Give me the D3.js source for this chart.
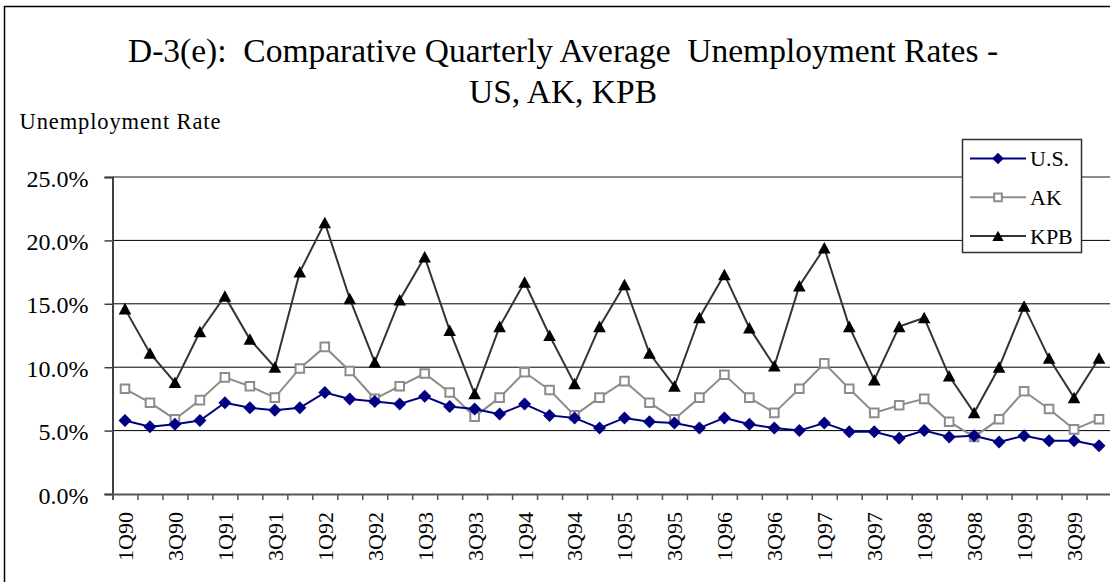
<!DOCTYPE html>
<html>
<head>
<meta charset="utf-8">
<script src="https://cdn.jsdelivr.net/npm/d3@7"></script>
<style>
  html, body { margin: 0; padding: 0; background: #fff; }
  svg { display: block; }
  text { font-family: "Liberation Serif", "Times New Roman", serif; fill: #000; }
</style>
</head>
<body>
<svg id="chart" width="1110" height="582"></svg>
<script>
// ---- Data ----
const categories = [
  "1Q90","2Q90","3Q90","4Q90","1Q91","2Q91","3Q91","4Q91",
  "1Q92","2Q92","3Q92","4Q92","1Q93","2Q93","3Q93","4Q93",
  "1Q94","2Q94","3Q94","4Q94","1Q95","2Q95","3Q95","4Q95",
  "1Q96","2Q96","3Q96","4Q96","1Q97","2Q97","3Q97","4Q97",
  "1Q98","2Q98","3Q98","4Q98","1Q99","2Q99","3Q99","4Q99"
];
const usValues = [5.8, 5.3, 5.5, 5.8, 7.2, 6.8, 6.6, 6.8, 8.0, 7.5, 7.3, 7.1, 7.7, 6.9, 6.7, 6.3,
  7.1, 6.2, 6.0, 5.2, 6.0, 5.7, 5.6, 5.2, 6.0, 5.5, 5.2, 5.0, 5.6, 4.9, 4.9, 4.4,
  5.0, 4.5, 4.6, 4.1, 4.6, 4.2, 4.2, 3.8];
const akValues = [8.3, 7.2, 5.9, 7.4, 9.2, 8.5, 7.6, 9.9, 11.6, 9.7, 7.5, 8.5, 9.5, 8.0, 6.1, 7.6,
  9.6, 8.2, 6.2, 7.6, 8.9, 7.2, 5.9, 7.6, 9.4, 7.6, 6.4, 8.3, 10.3, 8.3, 6.4, 7.0,
  7.5, 5.7, 4.5, 5.9, 8.1, 6.7, 5.1, 5.9];
const kpbValues = [14.6, 11.1, 8.8, 12.8, 15.6, 12.2, 10.0, 17.5, 21.4, 15.4, 10.4, 15.3, 18.7, 12.9, 7.9, 13.2,
  16.7, 12.5, 8.7, 13.2, 16.5, 11.1, 8.5, 13.9, 17.3, 13.1, 10.1, 16.4, 19.4, 13.2, 9.0, 13.2,
  13.9, 9.3, 6.4, 10.0, 14.8, 10.7, 7.6, 10.7];
const seriesNames = ["U.S.", "AK", "KPB"];
const yTicks = [0, 5, 10, 15, 20, 25];
const titleLines = ["D-3(e):  Comparative Quarterly Average  Unemployment Rates -", "US, AK, KPB"];
const yAxisTitle = "Unemployment Rate";

// ---- Setup ----
const svg = d3.select("#chart");
const plotLeft = 112.5, plotRight = 1111.5, plotTop = 177, plotBottom = 494;

const x = d3.scaleBand().domain(categories).range([plotLeft, plotRight]).padding(0);
const xb = d3.scaleLinear().domain([0, categories.length]).range([plotLeft, plotRight]);
const y = d3.scaleLinear().domain([0, 25]).range([plotBottom, plotTop]);
const cx = d => x(d) + x.bandwidth() / 2;

// Chart frame (extends beyond the visible area on right/bottom)
svg.append("rect")
  .attr("x", 4.5).attr("y", 6.5).attr("width", 1300).attr("height", 800)
  .attr("fill", "none").attr("stroke", "#000").attr("stroke-width", 1.5);

// Title
svg.append("g").selectAll("text").data(titleLines).join("text")
  .attr("x", 563).attr("y", (d, i) => 61.5 + i * 41.5)
  .attr("text-anchor", "middle")
  .style("font-size", "33.5px")
  .style("white-space", "pre")
  .text(d => d);

// Y-axis title
svg.append("text")
  .attr("x", 19.5).attr("y", 128.5)
  .style("font-size", "22.5px")
  .attr("textLength", 201).attr("lengthAdjust", "spacing")
  .text(yAxisTitle);

// Gridlines
svg.append("g").selectAll("line").data(yTicks.filter(t => t > 0)).join("line")
  .attr("x1", plotLeft).attr("x2", plotRight)
  .attr("y1", d => y(d)).attr("y2", d => y(d))
  .attr("stroke", d => d === 25 ? "#8c8c8c" : "#000")
  .attr("stroke-width", d => d === 25 ? 2 : 1);

// Y axis
const yAxis = svg.append("g")
  .attr("transform", `translate(${plotLeft},0)`)
  .call(d3.axisLeft(y).tickValues(yTicks).tickSize(8).tickPadding(16)
    .tickFormat(d => d.toFixed(1) + "%"));
yAxis.select(".domain").attr("stroke", "#404040").attr("stroke-width", 2);
yAxis.selectAll(".tick line").attr("stroke", "#404040").attr("stroke-width", 1.5);
yAxis.selectAll(".tick text").style("font-size", "24px").attr("font-family", null).attr("dy", "0.38em");

// X axis ticks at category boundaries
const xTickAxis = svg.append("g")
  .attr("transform", `translate(0,${plotBottom})`)
  .call(d3.axisBottom(xb).tickValues(d3.range(0, categories.length + 1)).tickSize(6).tickFormat(""));
xTickAxis.select(".domain").attr("stroke", "#555").attr("stroke-width", 2);
xTickAxis.selectAll(".tick line").attr("stroke", "#555").attr("stroke-width", 1.5);

// X labels every second category, rotated
const xLabelAxis = svg.append("g")
  .attr("transform", `translate(0,${plotBottom})`)
  .call(d3.axisBottom(x).tickValues(categories.filter((c, i) => i % 2 === 0)).tickSize(0));
xLabelAxis.select(".domain").remove();
xLabelAxis.selectAll(".tick text")
  .attr("font-family", null)
  .style("font-size", "22px")
  .attr("transform", "rotate(-90)")
  .attr("text-anchor", "end")
  .attr("x", -18).attr("y", 0).attr("dy", "0.36em");

// Marker shapes
const diamondType = { draw(ctx, size) { const r = Math.sqrt(size) / 2;
  ctx.moveTo(0, -r); ctx.lineTo(r, 0); ctx.lineTo(0, r); ctx.lineTo(-r, 0); ctx.closePath(); } };
const squareType = { draw(ctx, size) { const r = Math.sqrt(size) / 2;
  ctx.moveTo(-r, -r); ctx.lineTo(r, -r); ctx.lineTo(r, r); ctx.lineTo(-r, r); ctx.closePath(); } };
const triangleType = { draw(ctx, size) { const r = Math.sqrt(size) / 2;
  ctx.moveTo(0, -r); ctx.lineTo(r * 1.05, r * 0.92); ctx.lineTo(-r * 1.05, r * 0.92); ctx.closePath(); } };

const series = [
  { name: seriesNames[0], values: usValues, line: "#000080", width: 2, type: diamondType, size: 13 * 13, fill: "#000080", stroke: "none", sw: 0 },
  { name: seriesNames[1], values: akValues, line: "#8c8c8c", width: 2, type: squareType, size: 8.6 * 8.6, fill: "#fff", stroke: "#8c8c8c", sw: 2 },
  { name: seriesNames[2], values: kpbValues, line: "#333333", width: 2, type: triangleType, size: 12 * 12, fill: "#000", stroke: "none", sw: 0 }
];

const lineGen = d3.line().x((v, i) => cx(categories[i])).y(v => y(v));

// Draw order: KPB, AK, US (US on top)
[series[2], series[1], series[0]].forEach(s => {
  const g = svg.append("g");
  g.append("path").attr("d", lineGen(s.values))
    .attr("fill", "none").attr("stroke", s.line).attr("stroke-width", s.width);
  g.selectAll("path.m").data(s.values).join("path").attr("class", "m")
    .attr("transform", (v, i) => `translate(${cx(categories[i])},${y(v)})`)
    .attr("d", d3.symbol(s.type, s.size))
    .attr("fill", s.fill).attr("stroke", s.stroke).attr("stroke-width", s.sw);
});

// Legend
const legend = svg.append("g");
legend.append("rect")
  .attr("x", 962.5).attr("y", 139.5).attr("width", 119).attr("height", 113)
  .attr("fill", "#fff").attr("stroke", "#333").attr("stroke-width", 1.5);
const rows = legend.selectAll("g.row").data(series).join("g").attr("class", "row")
  .attr("transform", (d, i) => `translate(0,${158.5 + i * 38.8})`);
rows.append("line").attr("x1", 970).attr("x2", 1026).attr("y1", 0).attr("y2", 0)
  .attr("stroke", d => d.line).attr("stroke-width", d => d.width);
rows.append("path").attr("transform", "translate(998,0)")
  .attr("d", d => d3.symbol(d.type, d.size * 0.8)())
  .attr("fill", d => d.fill).attr("stroke", d => d.stroke).attr("stroke-width", d => d.sw);
rows.append("text").attr("x", 1030).attr("y", 0).attr("dy", "0.35em")
  .style("font-size", "22px").text(d => d.name);
</script>
</body>
</html>
